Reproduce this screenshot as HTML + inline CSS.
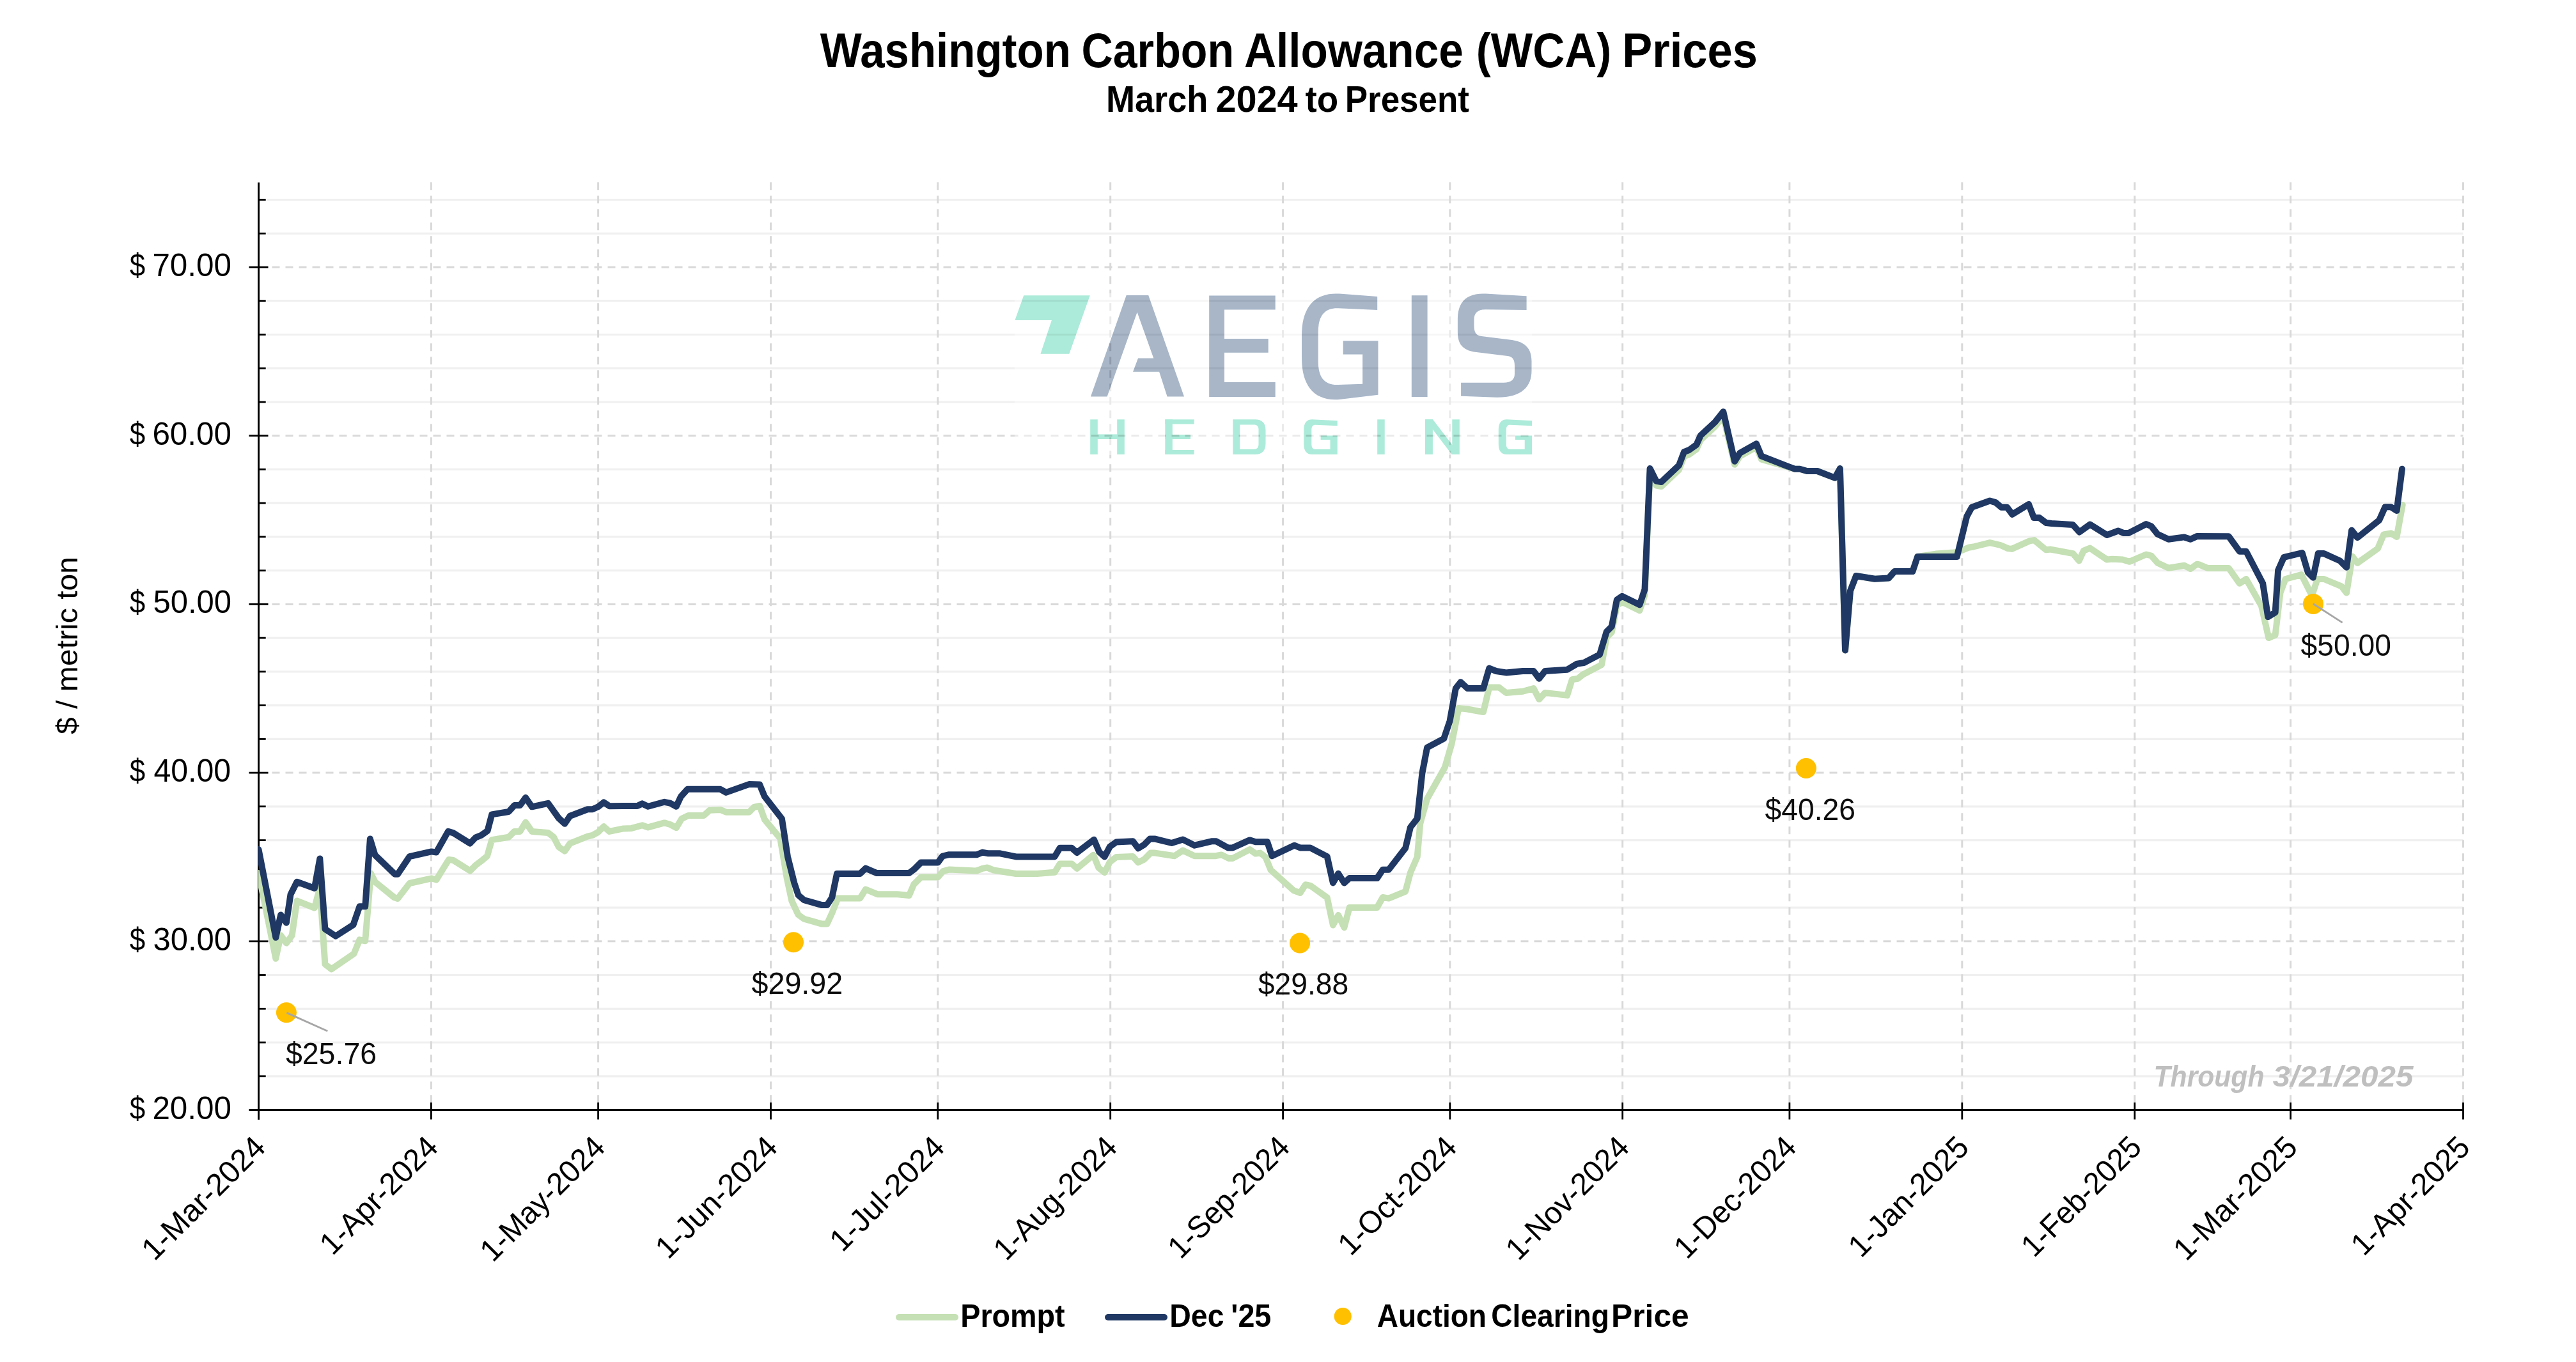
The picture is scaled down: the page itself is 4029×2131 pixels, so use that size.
<!DOCTYPE html>
<html><head><meta charset="utf-8"><title>Washington Carbon Allowance (WCA) Prices</title>
<style>
html,body{margin:0;padding:0;background:#fff;overflow:hidden;width:4029px;height:2131px;}
svg{display:block;}
text{font-family:'Liberation Sans', sans-serif;}
</style></head><body>
<svg width="4029" height="2131" viewBox="0 0 4029 2131">
<rect width="4029" height="2131" fill="#ffffff"/>

<line x1="417" y1="1683.8" x2="3852.5" y2="1683.8" stroke="#f0f0f0" stroke-width="3.2"/>
<line x1="417" y1="1631.0" x2="3852.5" y2="1631.0" stroke="#f0f0f0" stroke-width="3.2"/>
<line x1="417" y1="1578.3" x2="3852.5" y2="1578.3" stroke="#f0f0f0" stroke-width="3.2"/>
<line x1="417" y1="1525.5" x2="3852.5" y2="1525.5" stroke="#f0f0f0" stroke-width="3.2"/>
<line x1="417" y1="1420.1" x2="3852.5" y2="1420.1" stroke="#f0f0f0" stroke-width="3.2"/>
<line x1="417" y1="1367.3" x2="3852.5" y2="1367.3" stroke="#f0f0f0" stroke-width="3.2"/>
<line x1="417" y1="1314.6" x2="3852.5" y2="1314.6" stroke="#f0f0f0" stroke-width="3.2"/>
<line x1="417" y1="1261.8" x2="3852.5" y2="1261.8" stroke="#f0f0f0" stroke-width="3.2"/>
<line x1="417" y1="1156.4" x2="3852.5" y2="1156.4" stroke="#f0f0f0" stroke-width="3.2"/>
<line x1="417" y1="1103.6" x2="3852.5" y2="1103.6" stroke="#f0f0f0" stroke-width="3.2"/>
<line x1="417" y1="1050.9" x2="3852.5" y2="1050.9" stroke="#f0f0f0" stroke-width="3.2"/>
<line x1="417" y1="998.1" x2="3852.5" y2="998.1" stroke="#f0f0f0" stroke-width="3.2"/>
<line x1="417" y1="892.7" x2="3852.5" y2="892.7" stroke="#f0f0f0" stroke-width="3.2"/>
<line x1="417" y1="839.9" x2="3852.5" y2="839.9" stroke="#f0f0f0" stroke-width="3.2"/>
<line x1="417" y1="787.2" x2="3852.5" y2="787.2" stroke="#f0f0f0" stroke-width="3.2"/>
<line x1="417" y1="734.4" x2="3852.5" y2="734.4" stroke="#f0f0f0" stroke-width="3.2"/>
<line x1="417" y1="629.0" x2="3852.5" y2="629.0" stroke="#f0f0f0" stroke-width="3.2"/>
<line x1="417" y1="576.2" x2="3852.5" y2="576.2" stroke="#f0f0f0" stroke-width="3.2"/>
<line x1="417" y1="523.5" x2="3852.5" y2="523.5" stroke="#f0f0f0" stroke-width="3.2"/>
<line x1="417" y1="470.7" x2="3852.5" y2="470.7" stroke="#f0f0f0" stroke-width="3.2"/>
<line x1="417" y1="365.3" x2="3852.5" y2="365.3" stroke="#f0f0f0" stroke-width="3.2"/>
<line x1="417" y1="312.5" x2="3852.5" y2="312.5" stroke="#f0f0f0" stroke-width="3.2"/>
<line x1="425.5" y1="1472.8" x2="3852.5" y2="1472.8" stroke="#d9d9d9" stroke-width="3" stroke-dasharray="12 9"/>
<line x1="425.5" y1="1209.1" x2="3852.5" y2="1209.1" stroke="#d9d9d9" stroke-width="3" stroke-dasharray="12 9"/>
<line x1="425.5" y1="945.4" x2="3852.5" y2="945.4" stroke="#d9d9d9" stroke-width="3" stroke-dasharray="12 9"/>
<line x1="425.5" y1="681.7" x2="3852.5" y2="681.7" stroke="#d9d9d9" stroke-width="3" stroke-dasharray="12 9"/>
<line x1="425.5" y1="418.0" x2="3852.5" y2="418.0" stroke="#d9d9d9" stroke-width="3" stroke-dasharray="12 9"/>
<line x1="674.4" y1="285.3" x2="674.4" y2="1724" stroke="#d9d9d9" stroke-width="3" stroke-dasharray="12 9"/>
<line x1="935.6" y1="285.3" x2="935.6" y2="1724" stroke="#d9d9d9" stroke-width="3" stroke-dasharray="12 9"/>
<line x1="1205.5" y1="285.3" x2="1205.5" y2="1724" stroke="#d9d9d9" stroke-width="3" stroke-dasharray="12 9"/>
<line x1="1466.8" y1="285.3" x2="1466.8" y2="1724" stroke="#d9d9d9" stroke-width="3" stroke-dasharray="12 9"/>
<line x1="1736.7" y1="285.3" x2="1736.7" y2="1724" stroke="#d9d9d9" stroke-width="3" stroke-dasharray="12 9"/>
<line x1="2006.6" y1="285.3" x2="2006.6" y2="1724" stroke="#d9d9d9" stroke-width="3" stroke-dasharray="12 9"/>
<line x1="2267.8" y1="285.3" x2="2267.8" y2="1724" stroke="#d9d9d9" stroke-width="3" stroke-dasharray="12 9"/>
<line x1="2537.7" y1="285.3" x2="2537.7" y2="1724" stroke="#d9d9d9" stroke-width="3" stroke-dasharray="12 9"/>
<line x1="2798.9" y1="285.3" x2="2798.9" y2="1724" stroke="#d9d9d9" stroke-width="3" stroke-dasharray="12 9"/>
<line x1="3068.8" y1="285.3" x2="3068.8" y2="1724" stroke="#d9d9d9" stroke-width="3" stroke-dasharray="12 9"/>
<line x1="3338.8" y1="285.3" x2="3338.8" y2="1724" stroke="#d9d9d9" stroke-width="3" stroke-dasharray="12 9"/>
<line x1="3582.6" y1="285.3" x2="3582.6" y2="1724" stroke="#d9d9d9" stroke-width="3" stroke-dasharray="12 9"/>
<line x1="3852.5" y1="285.3" x2="3852.5" y2="1724" stroke="#d9d9d9" stroke-width="3" stroke-dasharray="12 9"/>
<defs><clipPath id="logoclip"><rect x="1586.7" y="458.6" width="809.3" height="253.4"/></clipPath>
<g id="lgA"><polygon points="1705.9,620.6 1761.7,462 1796.2,462 1852,620.6 1825.6,620.6 1813.1,581.7 1772,581.7 1780,560.4 1804.3,560.4 1778.6,488.5 1731.6,620.6"/><path d="M1891.2,462.6 L1994.7,462.6 L1994.7,484.4 L1915,484.4 L1915,530 L1983.7,530 L1983.7,551.8 L1915,551.8 L1915,598 L1994.7,598 L1994.7,621.1 L1891.2,621.1 Z"/><path d="M2154.2,463.9 L2095,459.6 C2055,457 2036,482 2036,525 L2036,560 C2036,603 2055,628 2095,625.1 L2155.5,617.8 L2155.5,533.3 L2100.7,533.3 L2100.7,554.4 L2131.1,554.4 L2131.1,600.7 L2093,602 C2071,602.7 2061.7,590 2061.7,565 L2061.7,520 C2061.7,495 2071,481.5 2093,482.2 L2154.2,485 Z"/><rect x="2207.8" y="462.2" width="24.8" height="158.9"/><path d="M2387.6,463.2 L2324,459.6 C2292,458 2279.9,474 2279.9,500 L2279.9,520 C2279.9,540 2290,548 2305,550.5 L2358,557 C2366,558 2369,563 2369,572 L2369,585 C2369,594 2363,598.7 2352,598.7 L2285.1,598.7 L2285.1,619.8 L2340,621.8 C2380,622.5 2395.5,605 2395.5,580 L2395.5,565 C2395.5,545 2385,535 2365,532 L2317,526 C2309,525 2305.5,520 2305.5,510 L2305.5,500 C2305.5,490 2311,484 2324,484.3 L2387.6,485 Z"/></g><g id="lgT"><polygon points="1601.2,462.2 1704.8,462.2 1672.3,553.8 1627.4,553.8 1644.9,501.1 1587.4,501.1"/><rect x="1705.2" y="656.3" width="11.6" height="54.7"/><rect x="1747.2" y="656.3" width="11.6" height="54.7"/><rect x="1716" y="679.5" width="32.0" height="7.5"/><rect x="1822.3" y="656.3" width="11.5" height="54.7"/><rect x="1822.3" y="656.3" width="45.4" height="7.2"/><rect x="1822.3" y="680.2" width="39.7" height="6.8"/><rect x="1822.3" y="704" width="45.4" height="7.0"/><path fill-rule="evenodd" d="M1928.3,656.3 L1963,656.3 C1974,656.3 1979.5,662 1979.5,673 L1979.5,694 C1979.5,705 1974,711 1963,711 L1928.3,711 Z M1939.3,664.5 L1961,664.5 C1966,664.5 1968.5,667 1968.5,672 L1968.5,695 C1968.5,700 1966,703 1961,703 L1939.3,703 Z"/><path d="M2091.8,658.3 L2052.3,656.3 C2043.3,656.3 2039.3,662.3 2039.3,672.3 L2039.3,695 C2039.3,705 2043.3,711 2052.3,711 L2091.8,711 L2091.8,681.5 L2065.6,681.5 L2065.6,688 L2080.5,688 L2080.5,703 L2057.3,703 C2053.3,703 2051.3,700 2051.3,695 L2051.3,672.3 C2051.3,667.3 2053.3,664.8 2057.3,664.8 L2091.8,666.3 Z"/><rect x="2154.2" y="656.3" width="11.5" height="54.7"/><rect x="2228.9" y="656.3" width="12.0" height="54.7"/><rect x="2271.3" y="656.3" width="11.5" height="54.7"/><polygon points="2228.9,656.3 2241,656.3 2282.8,711 2270.7,711"/><path d="M2396,658.3 L2356.8,656.3 C2347.8,656.3 2343.8,662.3 2343.8,672.3 L2343.8,695 C2343.8,705 2347.8,711 2356.8,711 L2396,711 L2396,681.5 L2369.9,681.5 L2369.9,688 L2384.7,688 L2384.7,703 L2361.8,703 C2357.8,703 2355.8,700 2355.8,695 L2355.8,672.3 C2355.8,667.3 2357.8,664.8 2361.8,664.8 L2396,666.3 Z"/></g>
<mask id="boxmask"><rect x="1586.7" y="458.6" width="809.3" height="253.4" fill="#fff"/><use href="#lgA" fill="#000"/><use href="#lgT" fill="#000"/></mask></defs>
<rect x="1586.7" y="458.6" width="809.3" height="253.4" fill="#ffffff" opacity="0.45" mask="url(#boxmask)"/>
<g clip-path="url(#logoclip)" style="mix-blend-mode:multiply">
<use href="#lgA" fill="rgb(168,182,200)"/>
<use href="#lgT" fill="rgb(172,235,217)"/>
</g>
<line x1="404.5" y1="285.5" x2="404.5" y2="1751.7" stroke="#000" stroke-width="3"/>
<line x1="389.4" y1="1736.5" x2="3854.0" y2="1736.5" stroke="#000" stroke-width="3"/>
<line x1="404.5" y1="1683.8" x2="415.7" y2="1683.8" stroke="#000" stroke-width="2.8"/>
<line x1="404.5" y1="1631.0" x2="415.7" y2="1631.0" stroke="#000" stroke-width="2.8"/>
<line x1="404.5" y1="1578.3" x2="415.7" y2="1578.3" stroke="#000" stroke-width="2.8"/>
<line x1="404.5" y1="1525.5" x2="415.7" y2="1525.5" stroke="#000" stroke-width="2.8"/>
<line x1="404.5" y1="1420.1" x2="415.7" y2="1420.1" stroke="#000" stroke-width="2.8"/>
<line x1="404.5" y1="1367.3" x2="415.7" y2="1367.3" stroke="#000" stroke-width="2.8"/>
<line x1="404.5" y1="1314.6" x2="415.7" y2="1314.6" stroke="#000" stroke-width="2.8"/>
<line x1="404.5" y1="1261.8" x2="415.7" y2="1261.8" stroke="#000" stroke-width="2.8"/>
<line x1="404.5" y1="1156.4" x2="415.7" y2="1156.4" stroke="#000" stroke-width="2.8"/>
<line x1="404.5" y1="1103.6" x2="415.7" y2="1103.6" stroke="#000" stroke-width="2.8"/>
<line x1="404.5" y1="1050.9" x2="415.7" y2="1050.9" stroke="#000" stroke-width="2.8"/>
<line x1="404.5" y1="998.1" x2="415.7" y2="998.1" stroke="#000" stroke-width="2.8"/>
<line x1="404.5" y1="892.7" x2="415.7" y2="892.7" stroke="#000" stroke-width="2.8"/>
<line x1="404.5" y1="839.9" x2="415.7" y2="839.9" stroke="#000" stroke-width="2.8"/>
<line x1="404.5" y1="787.2" x2="415.7" y2="787.2" stroke="#000" stroke-width="2.8"/>
<line x1="404.5" y1="734.4" x2="415.7" y2="734.4" stroke="#000" stroke-width="2.8"/>
<line x1="404.5" y1="629.0" x2="415.7" y2="629.0" stroke="#000" stroke-width="2.8"/>
<line x1="404.5" y1="576.2" x2="415.7" y2="576.2" stroke="#000" stroke-width="2.8"/>
<line x1="404.5" y1="523.5" x2="415.7" y2="523.5" stroke="#000" stroke-width="2.8"/>
<line x1="404.5" y1="470.7" x2="415.7" y2="470.7" stroke="#000" stroke-width="2.8"/>
<line x1="404.5" y1="365.3" x2="415.7" y2="365.3" stroke="#000" stroke-width="2.8"/>
<line x1="404.5" y1="312.5" x2="415.7" y2="312.5" stroke="#000" stroke-width="2.8"/>
<line x1="389.4" y1="1472.8" x2="419.5" y2="1472.8" stroke="#000" stroke-width="2.8"/>
<line x1="389.4" y1="1209.1" x2="419.5" y2="1209.1" stroke="#000" stroke-width="2.8"/>
<line x1="389.4" y1="945.4" x2="419.5" y2="945.4" stroke="#000" stroke-width="2.8"/>
<line x1="389.4" y1="681.7" x2="419.5" y2="681.7" stroke="#000" stroke-width="2.8"/>
<line x1="389.4" y1="418.0" x2="419.5" y2="418.0" stroke="#000" stroke-width="2.8"/>
<line x1="404.5" y1="1724.8" x2="404.5" y2="1751.5" stroke="#000" stroke-width="2.8"/>
<line x1="674.4" y1="1724.8" x2="674.4" y2="1751.5" stroke="#000" stroke-width="2.8"/>
<line x1="935.6" y1="1724.8" x2="935.6" y2="1751.5" stroke="#000" stroke-width="2.8"/>
<line x1="1205.5" y1="1724.8" x2="1205.5" y2="1751.5" stroke="#000" stroke-width="2.8"/>
<line x1="1466.8" y1="1724.8" x2="1466.8" y2="1751.5" stroke="#000" stroke-width="2.8"/>
<line x1="1736.7" y1="1724.8" x2="1736.7" y2="1751.5" stroke="#000" stroke-width="2.8"/>
<line x1="2006.6" y1="1724.8" x2="2006.6" y2="1751.5" stroke="#000" stroke-width="2.8"/>
<line x1="2267.8" y1="1724.8" x2="2267.8" y2="1751.5" stroke="#000" stroke-width="2.8"/>
<line x1="2537.7" y1="1724.8" x2="2537.7" y2="1751.5" stroke="#000" stroke-width="2.8"/>
<line x1="2798.9" y1="1724.8" x2="2798.9" y2="1751.5" stroke="#000" stroke-width="2.8"/>
<line x1="3068.8" y1="1724.8" x2="3068.8" y2="1751.5" stroke="#000" stroke-width="2.8"/>
<line x1="3338.8" y1="1724.8" x2="3338.8" y2="1751.5" stroke="#000" stroke-width="2.8"/>
<line x1="3582.6" y1="1724.8" x2="3582.6" y2="1751.5" stroke="#000" stroke-width="2.8"/>
<line x1="3852.5" y1="1724.8" x2="3852.5" y2="1751.5" stroke="#000" stroke-width="2.8"/>
<defs><clipPath id="plotclip"><rect x="404" y="280" width="3452" height="1455"/></clipPath></defs><g clip-path="url(#plotclip)">
<polyline points="404.5,1366.0 431.3,1499.8 439.1,1463.5 447.9,1475.6 456.7,1463.5 464.4,1409.5 491.9,1420.5 500.3,1389.0 508.4,1508.6 518.3,1516.3 553.6,1492.1 562.4,1470.3 571.2,1472.3 580.0,1366.6 586.6,1379.8 616.4,1404.0 622.0,1406.0 640.6,1382.0 674.7,1374.3 682.4,1376.5 702.0,1344.9 709.0,1346.0 735.3,1362.6 744.0,1353.7 752.8,1347.1 762.0,1339.4 769.2,1314.1 795.6,1309.7 804.5,1300.9 813.3,1300.9 822.1,1286.6 832.0,1300.9 857.3,1303.1 866.0,1309.7 873.8,1325.1 883.3,1331.7 891.5,1319.6 919.0,1308.6 926.7,1306.8 935.5,1302.0 944.3,1293.2 953.1,1300.9 975.0,1296.4 987.8,1295.9 1004.5,1291.3 1013.5,1294.4 1039.2,1287.4 1048.2,1290.0 1057.7,1295.1 1066.2,1281.0 1076.5,1275.9 1100.9,1275.9 1109.9,1267.7 1126.6,1266.9 1135.6,1270.7 1171.5,1270.7 1179.2,1263.0 1188.2,1261.0 1195.9,1282.3 1220.3,1311.8 1230.6,1373.5 1238.3,1409.5 1248.6,1431.3 1257.6,1437.7 1284.6,1445.4 1293.6,1445.4 1301.3,1428.7 1310.3,1405.6 1345.0,1405.6 1353.9,1391.5 1372.3,1399.2 1403.5,1399.2 1421.9,1401.0 1429.3,1383.6 1440.3,1372.6 1466.9,1372.6 1475.1,1363.0 1484.3,1360.6 1527.5,1362.5 1536.6,1358.8 1544.0,1357.5 1554.1,1361.5 1589.0,1367.0 1622.0,1367.0 1649.5,1364.8 1657.8,1351.4 1676.2,1351.4 1684.4,1358.8 1710.1,1337.7 1718.4,1357.9 1727.6,1365.2 1735.8,1348.7 1745.9,1341.0 1771.9,1340.1 1780.2,1349.3 1789.4,1344.7 1799.5,1334.6 1806.8,1334.6 1837.1,1339.2 1850.0,1330.6 1868.3,1339.2 1901.4,1339.2 1910.5,1337.4 1921.5,1342.9 1928.0,1342.9 1954.6,1329.1 1963.8,1335.6 1971.1,1334.6 1979.4,1341.1 1987.6,1361.3 2023.4,1393.4 2033.5,1397.0 2041.8,1384.2 2050.0,1386.0 2075.7,1404.4 2084.9,1447.5 2093.2,1431.9 2102.4,1451.2 2110.6,1420.0 2153.8,1420.0 2162.7,1404.0 2172.0,1405.6 2198.2,1394.8 2205.9,1365.5 2216.7,1340.8 2221.3,1288.4 2232.1,1249.8 2259.9,1200.5 2270.6,1163.5 2281.4,1107.9 2295.3,1109.5 2320.0,1114.1 2329.2,1075.6 2344.7,1075.6 2355.5,1083.9 2381.7,1081.7 2398.6,1077.1 2407.3,1094.1 2416.5,1083.9 2451.1,1087.9 2458.8,1063.2 2468.0,1061.7 2475.7,1055.5 2505.0,1040.1 2512.8,997.3 2520.8,989.3 2528.9,947.3 2537.0,941.8 2564.5,955.3 2572.5,931.1 2580.6,740.1 2590.3,759.5 2598.4,761.1 2625.9,735.2 2633.9,714.2 2642.0,711.0 2653.3,702.9 2659.8,688.4 2682.4,667.4 2695.3,651.2 2713.1,726.8 2721.2,713.9 2747.0,699.3 2755.1,718.7 2806.8,733.7 2814.9,733.7 2826.2,737.0 2842.3,737.0 2869.8,747.6 2877.9,733.1 2886.0,1017.4 2894.0,924.4 2903.0,901.0 2932.3,905.7 2954.1,904.4 2963.1,894.1 2991.4,894.1 2999.1,871.0 3027.4,866.6 3055.7,864.5 3060.8,864.0 3078.8,856.8 3086.5,855.5 3112.2,849.1 3128.9,853.0 3140.5,858.1 3146.6,858.9 3174.4,846.4 3181.6,845.1 3200.1,860.3 3207.4,859.6 3242.4,866.2 3251.7,877.4 3258.9,861.6 3268.8,857.6 3295.3,875.5 3303.9,874.8 3319.7,875.5 3330.3,878.8 3356.7,867.5 3364.7,869.5 3374.6,880.7 3391.7,888.7 3416.2,884.7 3426.1,890.0 3436.0,882.7 3439.1,883.2 3452.8,888.9 3485.8,888.9 3502.8,912.8 3513.1,906.0 3537.0,948.1 3548.3,998.1 3558.6,993.6 3566.5,927.6 3574.5,906.0 3599.5,899.1 3616.0,932.0 3624.6,906.0 3634.8,906.0 3662.1,917.3 3670.1,927.6 3679.2,870.7 3687.2,880.9 3719.0,858.2 3728.1,836.5 3739.5,834.3 3748.6,840.0 3757.7,789.9" fill="none" stroke="#c5e0b4" stroke-width="10" stroke-linejoin="round" stroke-linecap="round"/>
<polyline points="404.5,1329.1 431.3,1466.8 439.1,1431.5 447.9,1443.7 454.5,1399.6 464.4,1379.8 491.9,1389.7 500.3,1343.4 508.4,1453.6 525.0,1464.6 552.5,1447.0 562.4,1418.3 571.2,1418.3 578.9,1312.6 586.6,1337.9 617.5,1367.7 622.0,1367.7 640.6,1340.1 674.7,1332.4 682.4,1333.5 700.9,1300.9 708.6,1303.1 735.1,1319.6 743.9,1310.4 752.7,1306.8 762.6,1299.8 769.2,1274.4 795.6,1270.0 804.5,1260.1 813.3,1260.1 822.1,1248.0 832.0,1262.3 857.3,1256.8 873.8,1280.0 883.3,1288.8 891.5,1276.7 919.0,1266.3 926.7,1266.3 935.5,1262.3 944.3,1255.3 953.1,1261.2 975.0,1261.0 996.8,1261.0 1004.5,1257.4 1013.5,1261.8 1039.2,1254.8 1048.2,1256.6 1057.7,1261.8 1064.9,1246.3 1075.2,1234.8 1126.6,1234.8 1135.6,1239.9 1171.5,1227.1 1188.2,1227.6 1195.9,1246.3 1222.9,1281.0 1231.9,1340.1 1242.2,1381.2 1248.6,1400.5 1257.6,1408.2 1284.6,1415.9 1293.6,1415.9 1301.3,1404.3 1309.0,1367.1 1345.0,1367.1 1353.9,1358.6 1371.4,1366.1 1421.9,1366.1 1429.3,1360.6 1440.3,1349.6 1466.9,1349.6 1474.2,1339.5 1483.4,1337.3 1527.5,1337.3 1536.6,1333.6 1545.8,1335.3 1564.2,1335.3 1589.0,1340.4 1649.5,1340.4 1657.8,1326.7 1676.2,1326.7 1684.4,1334.0 1711.0,1313.8 1719.3,1333.1 1727.6,1340.4 1735.8,1324.8 1745.9,1317.5 1771.9,1316.3 1780.2,1327.3 1789.4,1321.8 1798.5,1312.6 1806.8,1312.6 1832.5,1319.0 1850.0,1313.5 1868.3,1322.7 1894.9,1316.3 1902.3,1316.3 1920.6,1326.4 1928.0,1326.4 1954.6,1314.4 1963.8,1317.2 1982.1,1317.2 1989.5,1339.2 2024.3,1322.7 2033.5,1326.4 2049.1,1326.4 2075.7,1340.1 2084.9,1381.4 2093.2,1366.8 2102.4,1381.4 2110.6,1374.1 2153.8,1374.1 2162.7,1360.8 2172.0,1360.8 2198.2,1326.9 2205.9,1294.5 2216.7,1280.6 2224.4,1209.7 2232.1,1169.6 2258.3,1155.7 2267.6,1128.0 2276.8,1077.1 2284.5,1067.2 2295.3,1077.1 2320.0,1077.1 2329.2,1045.6 2340.0,1050.0 2355.5,1052.4 2381.7,1050.0 2398.6,1050.0 2407.3,1061.7 2416.5,1050.0 2451.1,1047.8 2466.5,1038.6 2477.3,1037.0 2502.0,1024.1 2512.8,988.3 2520.8,980.3 2528.9,938.3 2537.0,932.8 2564.5,946.3 2572.5,922.1 2580.6,733.1 2590.3,752.5 2598.4,754.1 2625.9,728.2 2633.9,707.2 2642.0,704.0 2653.3,695.9 2659.8,681.4 2682.4,660.4 2695.3,644.2 2713.1,721.8 2721.2,708.9 2747.0,694.3 2755.1,713.7 2806.8,733.7 2814.9,733.7 2826.2,737.0 2842.3,737.0 2869.8,747.6 2877.9,733.1 2886.0,1017.4 2894.0,924.4 2903.0,901.0 2932.3,905.7 2954.1,904.4 2963.1,894.1 2991.4,894.1 2999.1,871.0 3060.8,871.0 3076.2,808.0 3083.9,793.8 3112.2,783.5 3121.2,786.1 3130.2,793.8 3139.2,793.8 3147.3,804.8 3173.0,788.9 3181.0,810.0 3189.6,810.0 3200.1,818.0 3208.7,819.0 3241.8,820.9 3252.3,832.5 3268.8,820.6 3295.3,837.1 3313.1,830.5 3321.7,834.1 3329.0,834.1 3356.7,820.0 3364.7,823.3 3374.6,835.8 3391.7,843.7 3416.2,840.4 3426.1,843.7 3436.0,839.1 3485.8,839.3 3502.8,862.7 3513.1,862.7 3539.2,912.8 3547.2,965.1 3558.6,958.3 3563.1,892.3 3572.2,871.8 3600.7,865.0 3609.8,895.7 3617.8,903.7 3625.7,866.1 3634.8,866.1 3659.9,877.5 3670.1,887.8 3678.1,829.7 3687.2,841.1 3721.3,813.8 3730.4,793.3 3739.5,793.3 3748.6,799.0 3757.0,733.7" fill="none" stroke="#1f3864" stroke-width="10" stroke-linejoin="round" stroke-linecap="round"/>
</g>
<circle cx="447.9" cy="1584.3" r="16" fill="#ffc000"/>
<line x1="448.4" y1="1584.6" x2="512.3" y2="1613.2" stroke="#a6a6a6" stroke-width="2.8"/>
<text x="446.9" y="1665.1" font-size="49" fill="#0d0d0d" textLength="142.2" lengthAdjust="spacingAndGlyphs">$25.76</text>
<circle cx="1241" cy="1474.3" r="16" fill="#ffc000"/>
<text x="1175.5" y="1555.1" font-size="49" fill="#0d0d0d" textLength="142.7" lengthAdjust="spacingAndGlyphs">$29.92</text>
<circle cx="2033.1" cy="1475.5" r="16" fill="#ffc000"/>
<text x="1967.7" y="1556.3" font-size="49" fill="#0d0d0d" textLength="141.6" lengthAdjust="spacingAndGlyphs">$29.88</text>
<circle cx="2824.9" cy="1202" r="16" fill="#ffc000"/>
<text x="2760.4" y="1282.8" font-size="49" fill="#0d0d0d" textLength="141.6" lengthAdjust="spacingAndGlyphs">$40.26</text>
<circle cx="3618" cy="944.9" r="16" fill="#ffc000"/>
<line x1="3618" y1="944.8" x2="3663.6" y2="974.1" stroke="#a6a6a6" stroke-width="2.8"/>
<text x="3598.6" y="1025.7" font-size="49" fill="#0d0d0d" textLength="141.4" lengthAdjust="spacingAndGlyphs">$50.00</text>
<text x="202.80" y="1750.5" font-size="49.5" font-weight="normal" font-style="normal" fill="#000" textLength="24.40" lengthAdjust="spacingAndGlyphs">$</text><text x="238.40" y="1750.5" font-size="49.5" font-weight="normal" font-style="normal" fill="#000" textLength="123.60" lengthAdjust="spacingAndGlyphs">20.00</text>
<text x="202.80" y="1486.8" font-size="49.5" font-weight="normal" font-style="normal" fill="#000" textLength="24.40" lengthAdjust="spacingAndGlyphs">$</text><text x="239.40" y="1486.8" font-size="49.5" font-weight="normal" font-style="normal" fill="#000" textLength="122.60" lengthAdjust="spacingAndGlyphs">30.00</text>
<text x="202.80" y="1223.1" font-size="49.5" font-weight="normal" font-style="normal" fill="#000" textLength="24.40" lengthAdjust="spacingAndGlyphs">$</text><text x="240.40" y="1223.1" font-size="49.5" font-weight="normal" font-style="normal" fill="#000" textLength="120.60" lengthAdjust="spacingAndGlyphs">40.00</text>
<text x="202.80" y="959.4" font-size="49.5" font-weight="normal" font-style="normal" fill="#000" textLength="24.40" lengthAdjust="spacingAndGlyphs">$</text><text x="239.40" y="959.4" font-size="49.5" font-weight="normal" font-style="normal" fill="#000" textLength="122.60" lengthAdjust="spacingAndGlyphs">50.00</text>
<text x="202.80" y="695.7" font-size="49.5" font-weight="normal" font-style="normal" fill="#000" textLength="24.40" lengthAdjust="spacingAndGlyphs">$</text><text x="238.40" y="695.7" font-size="49.5" font-weight="normal" font-style="normal" fill="#000" textLength="123.60" lengthAdjust="spacingAndGlyphs">60.00</text>
<text x="202.80" y="432.0" font-size="49.5" font-weight="normal" font-style="normal" fill="#000" textLength="24.40" lengthAdjust="spacingAndGlyphs">$</text><text x="238.40" y="432.0" font-size="49.5" font-weight="normal" font-style="normal" fill="#000" textLength="123.60" lengthAdjust="spacingAndGlyphs">70.00</text>
<text transform="translate(393.0,1773.0) rotate(-45)" x="0" y="0" text-anchor="end" dominant-baseline="hanging" font-size="48.5" fill="#000" textLength="249.5" lengthAdjust="spacingAndGlyphs">1-Mar-2024</text>
<text transform="translate(662.9,1773.0) rotate(-45)" x="0" y="0" text-anchor="end" dominant-baseline="hanging" font-size="48.5" fill="#000" textLength="237.3" lengthAdjust="spacingAndGlyphs">1-Apr-2024</text>
<text transform="translate(924.1,1773.0) rotate(-45)" x="0" y="0" text-anchor="end" dominant-baseline="hanging" font-size="48.5" fill="#000" textLength="252.2" lengthAdjust="spacingAndGlyphs">1-May-2024</text>
<text transform="translate(1194.0,1773.0) rotate(-45)" x="0" y="0" text-anchor="end" dominant-baseline="hanging" font-size="48.5" fill="#000" textLength="246.0" lengthAdjust="spacingAndGlyphs">1-Jun-2024</text>
<text transform="translate(1455.3,1773.0) rotate(-45)" x="0" y="0" text-anchor="end" dominant-baseline="hanging" font-size="48.5" fill="#000" textLength="230.0" lengthAdjust="spacingAndGlyphs">1-Jul-2024</text>
<text transform="translate(1725.2,1773.0) rotate(-45)" x="0" y="0" text-anchor="end" dominant-baseline="hanging" font-size="48.5" fill="#000" textLength="249.5" lengthAdjust="spacingAndGlyphs">1-Aug-2024</text>
<text transform="translate(1995.1,1773.0) rotate(-45)" x="0" y="0" text-anchor="end" dominant-baseline="hanging" font-size="48.5" fill="#000" textLength="245.4" lengthAdjust="spacingAndGlyphs">1-Sep-2024</text>
<text transform="translate(2256.3,1773.0) rotate(-45)" x="0" y="0" text-anchor="end" dominant-baseline="hanging" font-size="48.5" fill="#000" textLength="238.6" lengthAdjust="spacingAndGlyphs">1-Oct-2024</text>
<text transform="translate(2526.2,1773.0) rotate(-45)" x="0" y="0" text-anchor="end" dominant-baseline="hanging" font-size="48.5" fill="#000" textLength="249.0" lengthAdjust="spacingAndGlyphs">1-Nov-2024</text>
<text transform="translate(2787.4,1773.0) rotate(-45)" x="0" y="0" text-anchor="end" dominant-baseline="hanging" font-size="48.5" fill="#000" textLength="246.0" lengthAdjust="spacingAndGlyphs">1-Dec-2024</text>
<text transform="translate(3057.3,1773.0) rotate(-45)" x="0" y="0" text-anchor="end" dominant-baseline="hanging" font-size="48.5" fill="#000" textLength="242.6" lengthAdjust="spacingAndGlyphs">1-Jan-2025</text>
<text transform="translate(3327.3,1773.0) rotate(-45)" x="0" y="0" text-anchor="end" dominant-baseline="hanging" font-size="48.5" fill="#000" textLength="241.9" lengthAdjust="spacingAndGlyphs">1-Feb-2025</text>
<text transform="translate(3571.1,1773.0) rotate(-45)" x="0" y="0" text-anchor="end" dominant-baseline="hanging" font-size="48.5" fill="#000" textLength="249.9" lengthAdjust="spacingAndGlyphs">1-Mar-2025</text>
<text transform="translate(3841.0,1773.0) rotate(-45)" x="0" y="0" text-anchor="end" dominant-baseline="hanging" font-size="48.5" fill="#000" textLength="238.9" lengthAdjust="spacingAndGlyphs">1-Apr-2025</text>
<text transform="translate(121.2,1010) rotate(-90)" x="0" y="0" text-anchor="middle" font-size="46.8" fill="#000" textLength="278" lengthAdjust="spacingAndGlyphs">$ / metric ton</text>
<text x="1282.70" y="105" font-size="75.6" font-weight="bold" font-style="normal" fill="#000" textLength="392.10" lengthAdjust="spacingAndGlyphs">Washington</text><text x="1691.50" y="105" font-size="75.6" font-weight="bold" font-style="normal" fill="#000" textLength="238.50" lengthAdjust="spacingAndGlyphs">Carbon</text><text x="1946.00" y="105" font-size="75.6" font-weight="bold" font-style="normal" fill="#000" textLength="342.80" lengthAdjust="spacingAndGlyphs">Allowance</text><text x="2308.80" y="105" font-size="75.6" font-weight="bold" font-style="normal" fill="#000" textLength="211.60" lengthAdjust="spacingAndGlyphs">(WCA)</text><text x="2537.20" y="105" font-size="75.6" font-weight="bold" font-style="normal" fill="#000" textLength="211.70" lengthAdjust="spacingAndGlyphs">Prices</text>
<text x="1729.90" y="175" font-size="57.5" font-weight="bold" font-style="normal" fill="#000" textLength="159.40" lengthAdjust="spacingAndGlyphs">March</text><text x="1901.40" y="175" font-size="57.5" font-weight="bold" font-style="normal" fill="#000" textLength="128.30" lengthAdjust="spacingAndGlyphs">2024</text><text x="2041.60" y="175" font-size="57.5" font-weight="bold" font-style="normal" fill="#000" textLength="51.70" lengthAdjust="spacingAndGlyphs">to</text><text x="2103.70" y="175" font-size="57.5" font-weight="bold" font-style="normal" fill="#000" textLength="194.30" lengthAdjust="spacingAndGlyphs">Present</text>
<text x="3368.5" y="1700.2" font-size="46.5" font-weight="bold" font-style="italic" fill="#bfbfbf" textLength="173" lengthAdjust="spacingAndGlyphs">Through</text>
<text x="3554.5" y="1700.2" font-size="46.5" font-weight="bold" font-style="italic" fill="#bfbfbf" textLength="220" lengthAdjust="spacingAndGlyphs">3/21/2025</text>
<line x1="1406" y1="2061" x2="1494" y2="2061" stroke="#c5e0b4" stroke-width="10" stroke-linecap="round"/>
<text x="1502.30" y="2076" font-size="50" font-weight="bold" font-style="normal" fill="#000" textLength="163.30" lengthAdjust="spacingAndGlyphs">Prompt</text><text x="1829.30" y="2076" font-size="50" font-weight="bold" font-style="normal" fill="#000" textLength="85.30" lengthAdjust="spacingAndGlyphs">Dec</text><text x="1925.30" y="2076" font-size="50" font-weight="bold" font-style="normal" fill="#000" textLength="63.00" lengthAdjust="spacingAndGlyphs">'25</text><text x="2153.70" y="2076" font-size="50" font-weight="bold" font-style="normal" fill="#000" textLength="171.30" lengthAdjust="spacingAndGlyphs">Auction</text><text x="2332.30" y="2076" font-size="50" font-weight="bold" font-style="normal" fill="#000" textLength="184.60" lengthAdjust="spacingAndGlyphs">Clearing</text><text x="2520.00" y="2076" font-size="50" font-weight="bold" font-style="normal" fill="#000" textLength="121.80" lengthAdjust="spacingAndGlyphs">Price</text>
<line x1="1733" y1="2061" x2="1821" y2="2061" stroke="#1f3864" stroke-width="10" stroke-linecap="round"/>
<circle cx="2100.2" cy="2059.5" r="13.6" fill="#ffc000"/>
</svg></body></html>
